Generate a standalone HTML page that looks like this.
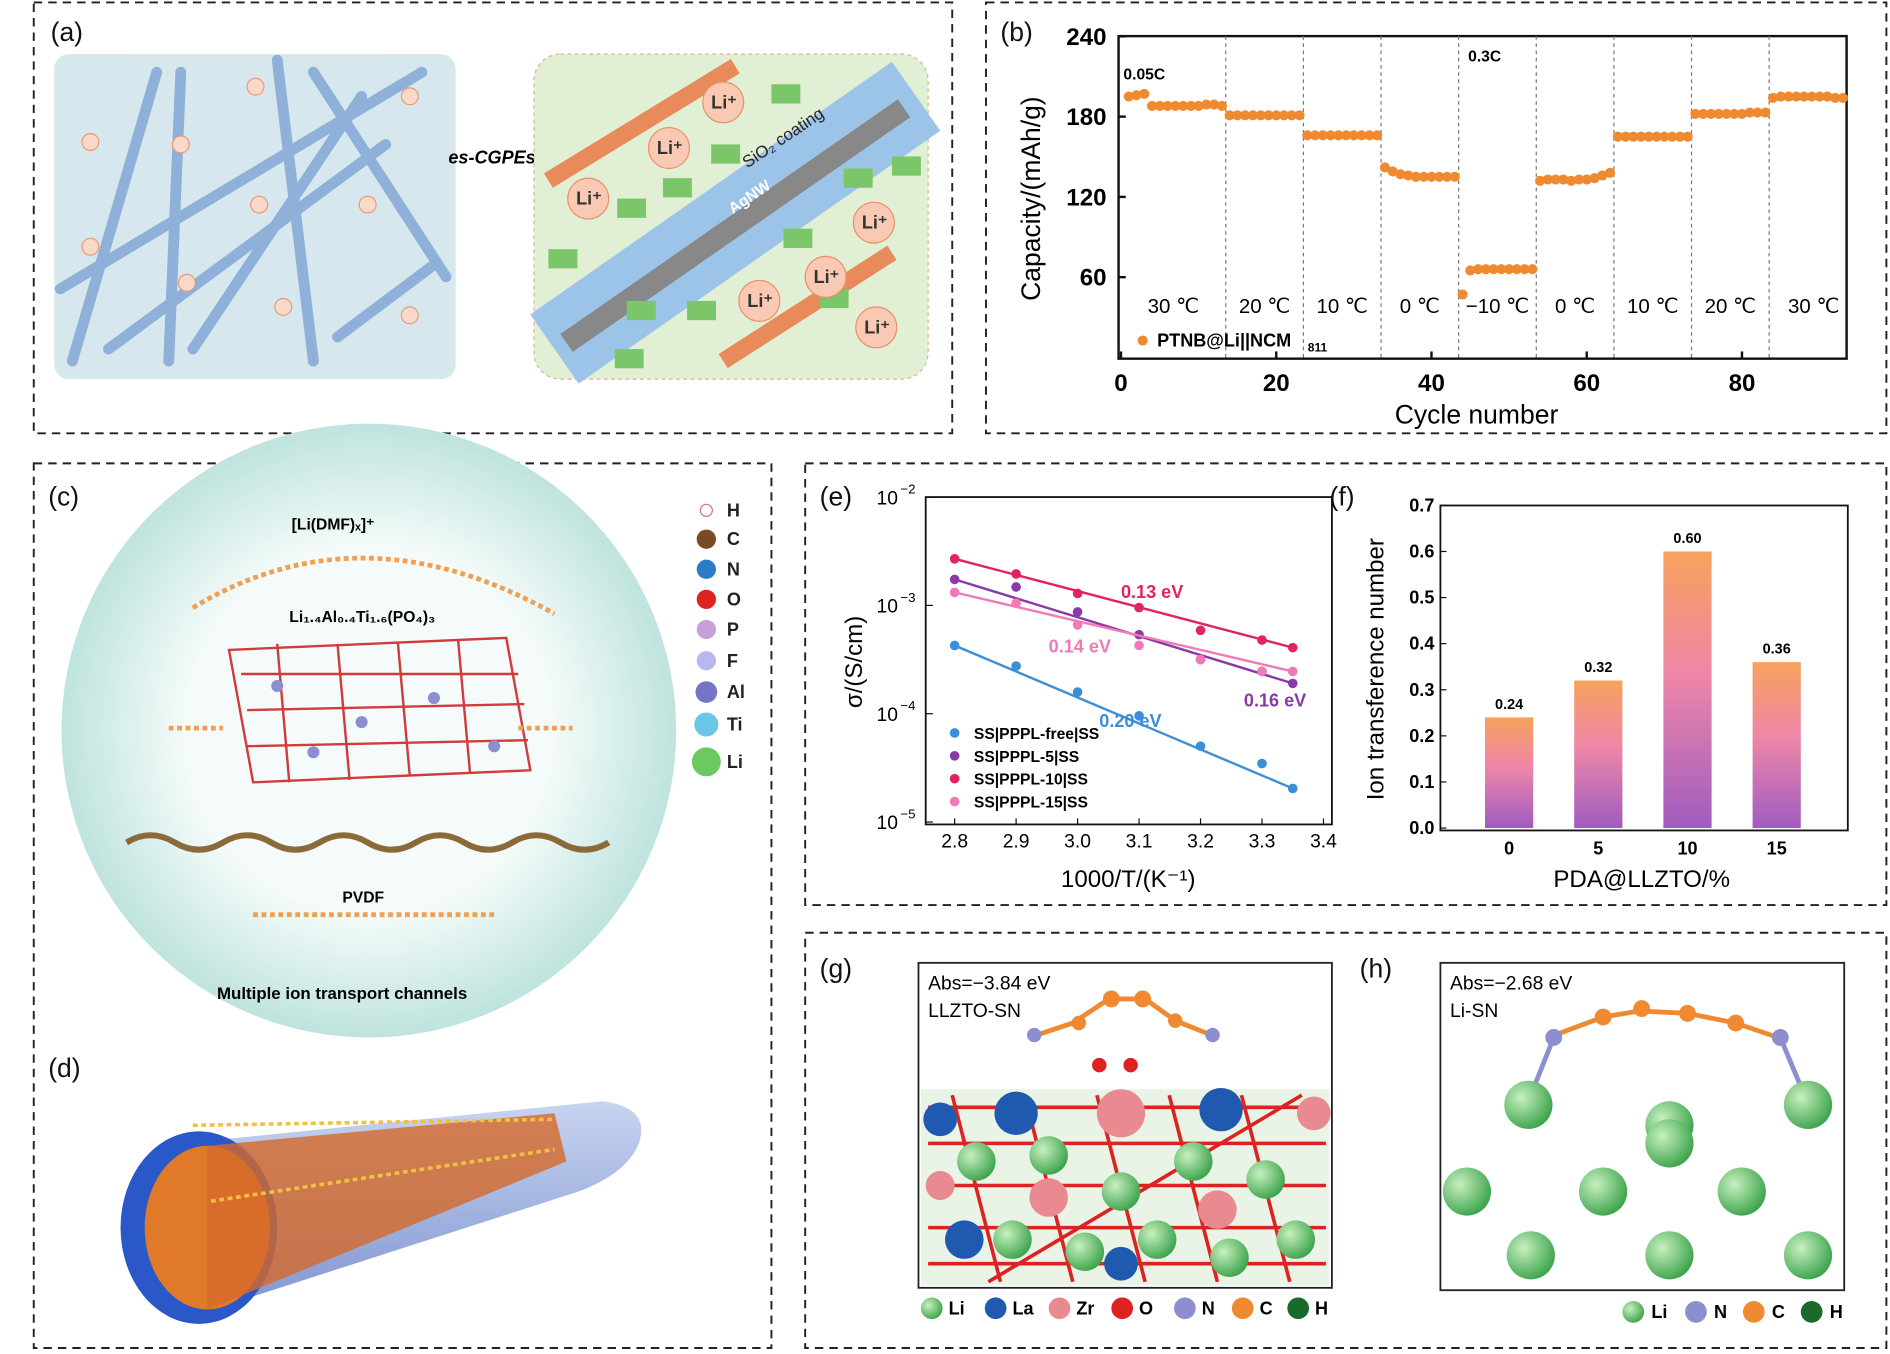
<!DOCTYPE html>
<html><head><meta charset="utf-8"><style>
html,body{margin:0;padding:0;background:#fff}
svg{display:block;font-family:"Liberation Sans",sans-serif}
</style></head><body>
<svg id="fig" width="1890" height="1354" viewBox="0 0 1568 1125" preserveAspectRatio="none" xmlns="http://www.w3.org/2000/svg">
<defs>
<linearGradient id="barg" x1="0" y1="0" x2="0" y2="1"><stop offset="0" stop-color="#f7a25c"/><stop offset="0.45" stop-color="#ee86a8"/><stop offset="1" stop-color="#a05cc0"/></linearGradient>
<radialGradient id="sph" cx="0.5" cy="0.5" r="0.5"><stop offset="0.6" stop-color="#f4fbfa"/><stop offset="1" stop-color="#bfe3de"/></radialGradient>
<radialGradient id="gball" cx="0.35" cy="0.35" r="0.7"><stop offset="0" stop-color="#c8f0c0"/><stop offset="1" stop-color="#3aa34a"/></radialGradient>
<linearGradient id="cyl" x1="0" y1="0" x2="0" y2="1"><stop offset="0" stop-color="#c8d4f0"/><stop offset="1" stop-color="#7f95cf"/></linearGradient>
</defs>
<g fill="none" stroke="#222" stroke-width="1.6" stroke-dasharray="7,5">
<rect x="28" y="2" width="762" height="358"/>
<rect x="818" y="2" width="747" height="358"/>
<rect x="28" y="385" width="612" height="735"/>
<rect x="668" y="385" width="897" height="367"/>
<rect x="668" y="775" width="897" height="345"/>
</g>
<g font-size="22" fill="#111">
<text x="42" y="34">(a)</text>
<text x="830" y="34">(b)</text>
<text x="40" y="420">(c)</text>
<text x="40" y="895">(d)</text>
<text x="680" y="420">(e)</text>
<text x="1103" y="420">(f)</text>
<text x="680" y="812">(g)</text>
<text x="1128" y="812">(h)</text>
</g>
<g>
<rect x="45" y="45" width="333" height="270" rx="12" fill="#d6e8ee"/>
<g stroke="#8fb0d8" stroke-width="9" stroke-linecap="round">
<line x1="60" y1="300" x2="130" y2="60"/><line x1="150" y1="60" x2="140" y2="300"/><line x1="90" y1="290" x2="320" y2="120"/>
<line x1="50" y1="240" x2="350" y2="60"/><line x1="230" y1="50" x2="260" y2="300"/><line x1="260" y1="60" x2="370" y2="230"/>
<line x1="160" y1="290" x2="300" y2="80"/><line x1="280" y1="280" x2="360" y2="220"/>
</g>
<g fill="#fbd9c8" stroke="#e89a7a"><circle cx="75" cy="205" r="7"/><circle cx="150" cy="120" r="7"/><circle cx="215" cy="170" r="7"/><circle cx="305" cy="170" r="7"/><circle cx="155" cy="235" r="7"/><circle cx="235" cy="255" r="7"/><circle cx="340" cy="262" r="7"/><circle cx="212" cy="72" r="7"/><circle cx="340" cy="80" r="7"/><circle cx="75" cy="118" r="7"/></g>
<text x="372" y="136" font-size="15" font-weight="bold" font-style="italic">es-CGPEs</text>
<rect x="443" y="45" width="327" height="270" rx="22" fill="#e1efd4" stroke="#e3b08a" stroke-dasharray="3,3"/>
<line x1="460" y1="290" x2="760" y2="80" stroke="#9cc3e8" stroke-width="70"/>
<line x1="470" y1="285" x2="750" y2="90" stroke="#888" stroke-width="18"/>
<line x1="455" y1="150" x2="610" y2="55" stroke="#e88a5a" stroke-width="14"/>
<line x1="600" y1="300" x2="740" y2="210" stroke="#e88a5a" stroke-width="14"/>
<g fill="#7cc66a"><rect x="455" y="207" width="24" height="16"/><rect x="512" y="165" width="24" height="16"/><rect x="550" y="148" width="24" height="16"/><rect x="590" y="120" width="24" height="16"/><rect x="640" y="70" width="24" height="16"/><rect x="520" y="250" width="24" height="16"/><rect x="570" y="250" width="24" height="16"/><rect x="650" y="190" width="24" height="16"/><rect x="700" y="140" width="24" height="16"/><rect x="740" y="130" width="24" height="16"/><rect x="510" y="290" width="24" height="16"/><rect x="680" y="240" width="24" height="16"/></g>
<g fill="#f9c9b4" stroke="#e8906a"><circle cx="488" cy="165" r="17"/><circle cx="555" cy="123" r="17"/><circle cx="600" cy="85" r="17"/><circle cx="725" cy="185" r="17"/><circle cx="630" cy="250" r="17"/><circle cx="685" cy="230" r="17"/><circle cx="727" cy="272" r="17"/></g>
<g font-size="15" fill="#333" font-weight="bold"><text x="478" y="170">Li⁺</text><text x="545" y="128">Li⁺</text><text x="590" y="90">Li⁺</text><text x="715" y="190">Li⁺</text><text x="620" y="255">Li⁺</text><text x="675" y="235">Li⁺</text><text x="717" y="277">Li⁺</text></g>
<text x="620" y="140" font-size="14" transform="rotate(-34 620 140)" fill="#222">SiO₂ coating</text>
<text x="608" y="178" font-size="13" transform="rotate(-34 608 178)" fill="#fff" font-weight="bold">AgNW</text>
</g>
<g id="chartB"></g>
<g id="chartE"></g>
<g id="chartF"></g>
<g>
<circle cx="306" cy="607" r="255" fill="url(#sph)"/>
<text x="242" y="440" font-size="13" font-weight="bold">[Li(DMF)ₓ]⁺</text>
<text x="240" y="517" font-size="13" font-weight="bold">Li₁.₄Al₀.₄Ti₁.₆(PO₄)₃</text>
<path d="M160,505 Q300,420 460,510" fill="none" stroke="#f0a050" stroke-width="4" stroke-dasharray="4,3"/>
<g stroke="#d23b3b" stroke-width="2" fill="none"><path d="M190,540 L420,530 L440,640 L210,650 Z"/><path d="M200,560 L430,560 M205,590 L435,585 M205,620 L438,615"/><path d="M230,535 L240,650 M280,535 L290,648 M330,533 L340,645 M380,531 L390,643"/></g>
<g fill="#8d8ed0"><circle cx="230" cy="570" r="5"/><circle cx="300" cy="600" r="5"/><circle cx="360" cy="580" r="5"/><circle cx="410" cy="620" r="5"/><circle cx="260" cy="625" r="5"/></g>
<path d="M105,700 q20,-12 40,0 t40,0 t40,0 t40,0 t40,0 t40,0 t40,0 t40,0 t40,0 t40,0" fill="none" stroke="#8b6a3a" stroke-width="5"/>
<text x="284" y="750" font-size="13" font-weight="bold">PVDF</text>
<line x1="210" y1="760" x2="410" y2="760" stroke="#f0a050" stroke-width="4" stroke-dasharray="4,3"/>
<line x1="140" y1="605" x2="185" y2="605" stroke="#f0a050" stroke-width="4" stroke-dasharray="4,3"/>
<line x1="430" y1="605" x2="475" y2="605" stroke="#f0a050" stroke-width="4" stroke-dasharray="4,3"/>
<text x="180" y="830" font-size="14" font-weight="bold">Multiple ion transport channels</text>
<g font-size="15" font-weight="bold" fill="#222">
<circle cx="586" cy="424" r="5" fill="#fff" stroke="#c77"/><text x="603" y="429">H</text>
<circle cx="586" cy="448" r="8" fill="#7a4a20"/><text x="603" y="453">C</text>
<circle cx="586" cy="473" r="8" fill="#2a7bc8"/><text x="603" y="478">N</text>
<circle cx="586" cy="498" r="8" fill="#d22"/><text x="603" y="503">O</text>
<circle cx="586" cy="523" r="8" fill="#c7a0d8"/><text x="603" y="528">P</text>
<circle cx="586" cy="549" r="8" fill="#b8b8f0"/><text x="603" y="554">F</text>
<circle cx="586" cy="575" r="9" fill="#7575c8"/><text x="603" y="580">Al</text>
<circle cx="586" cy="602" r="10" fill="#6cc6e8"/><text x="603" y="607">Ti</text>
<circle cx="586" cy="633" r="12" fill="#6cc860"/><text x="603" y="638">Li</text>
</g>
</g>
<g>
<path d="M150,950 L500,915 Q540,920 530,950 Q520,975 480,990 L170,1090 Z" fill="url(#cyl)"/>
<ellipse cx="165" cy="1020" rx="65" ry="80" fill="#2b58c8"/>
<ellipse cx="172" cy="1020" rx="52" ry="68" fill="#e07a2a"/>
<path d="M172,952 L460,925 L470,965 L172,1088 Z" fill="#d6692a" opacity="0.8"/>
<line x1="160" y1="935" x2="460" y2="930" stroke="#f0c040" stroke-width="3" stroke-dasharray="4,3"/>
<line x1="175" y1="998" x2="460" y2="955" stroke="#f0c040" stroke-width="3" stroke-dasharray="4,3"/>
</g>
<g>
<rect x="762" y="800" width="343" height="270" fill="#fff" stroke="#222" stroke-width="1.5"/>
<rect x="764" y="905" width="339" height="163" fill="#e9f3e6"/>
<g stroke="#d22" stroke-width="3"><path d="M770,920 L1100,920 M770,950 L1100,950 M770,985 L1100,985 M770,1020 L1100,1020 M770,1050 L1100,1050"/><path d="M790,910 L830,1065 M850,910 L890,1065 M910,910 L950,1065 M970,910 L1010,1065 M1030,910 L1070,1065 M1080,910 L820,1065"/></g>
<g fill="url(#gball)"><circle cx="810" cy="965" r="16"/><circle cx="870" cy="960" r="16"/><circle cx="930" cy="990" r="16"/><circle cx="990" cy="965" r="16"/><circle cx="1050" cy="980" r="16"/><circle cx="840" cy="1030" r="16"/><circle cx="900" cy="1040" r="16"/><circle cx="960" cy="1030" r="16"/><circle cx="1020" cy="1045" r="16"/><circle cx="1075" cy="1030" r="16"/></g>
<g fill="#1f5ab0"><circle cx="843" cy="925" r="18"/><circle cx="1013" cy="922" r="18"/><circle cx="780" cy="930" r="14"/><circle cx="800" cy="1030" r="16"/><circle cx="930" cy="1050" r="14"/></g>
<g fill="#e88a90"><circle cx="930" cy="925" r="20"/><circle cx="1090" cy="925" r="14"/><circle cx="870" cy="995" r="16"/><circle cx="1010" cy="1005" r="16"/><circle cx="780" cy="985" r="12"/></g>
<path d="M860,860 L890,850 L920,830 L950,830 L975,848 L1005,860" fill="none" stroke="#f08a30" stroke-width="4"/>
<g fill="#f08a30"><circle cx="922" cy="830" r="7"/><circle cx="948" cy="830" r="7"/><circle cx="895" cy="850" r="6"/><circle cx="975" cy="848" r="6"/></g>
<g fill="#8d8ed0"><circle cx="858" cy="860" r="6"/><circle cx="1006" cy="860" r="6"/></g>
<g fill="#d22"><circle cx="912" cy="885" r="6"/><circle cx="938" cy="885" r="6"/></g>
<text x="770" y="822" font-size="16">Abs=−3.84 eV</text>
<text x="770" y="845" font-size="16">LLZTO-SN</text>
<g font-size="15" font-weight="bold">
<circle cx="773" cy="1087" r="9" fill="url(#gball)"/><text x="787" y="1092">Li</text>
<circle cx="826" cy="1087" r="9" fill="#1f5ab0"/><text x="840" y="1092">La</text>
<circle cx="879" cy="1087" r="9" fill="#e88a90"/><text x="893" y="1092">Zr</text>
<circle cx="931" cy="1087" r="9" fill="#d22"/><text x="945" y="1092">O</text>
<circle cx="983" cy="1087" r="9" fill="#8d8ed0"/><text x="997" y="1092">N</text>
<circle cx="1031" cy="1087" r="9" fill="#f08a30"/><text x="1045" y="1092">C</text>
<circle cx="1077" cy="1087" r="9" fill="#1a6a2a"/><text x="1091" y="1092">H</text>
</g>
</g>
<g>
<rect x="1195" y="800" width="335" height="272" fill="#fff" stroke="#222" stroke-width="1.5"/>
<path d="M1290,860 L1330,845 L1360,840 L1400,842 L1440,850 L1475,862" fill="none" stroke="#f08a30" stroke-width="4"/>
<g fill="#f08a30"><circle cx="1330" cy="845" r="7"/><circle cx="1362" cy="838" r="7"/><circle cx="1400" cy="842" r="7"/><circle cx="1440" cy="850" r="7"/></g>
<g fill="#8d8ed0"><circle cx="1289" cy="862" r="7"/><circle cx="1477" cy="862" r="7"/></g>
<g stroke="#8d8ed0" stroke-width="4"><line x1="1289" y1="862" x2="1270" y2="910"/><line x1="1477" y1="862" x2="1497" y2="910"/></g>
<g fill="url(#gball)"><circle cx="1268" cy="918" r="20"/><circle cx="1385" cy="935" r="20"/><circle cx="1500" cy="918" r="20"/><circle cx="1217" cy="990" r="20"/><circle cx="1330" cy="990" r="20"/><circle cx="1385" cy="950" r="20"/><circle cx="1445" cy="990" r="20"/><circle cx="1270" cy="1043" r="20"/><circle cx="1385" cy="1043" r="20"/><circle cx="1500" cy="1043" r="20"/></g>
<text x="1203" y="822" font-size="16">Abs=−2.68 eV</text>
<text x="1203" y="845" font-size="16">Li-SN</text>
<g font-size="15" font-weight="bold">
<circle cx="1355" cy="1090" r="9" fill="url(#gball)"/><text x="1370" y="1095">Li</text>
<circle cx="1407" cy="1090" r="9" fill="#8d8ed0"/><text x="1422" y="1095">N</text>
<circle cx="1455" cy="1090" r="9" fill="#f08a30"/><text x="1470" y="1095">C</text>
<circle cx="1503" cy="1090" r="9" fill="#1a6a2a"/><text x="1518" y="1095">H</text>
</g>
</g>
</svg>
<script>
const NS="http://www.w3.org/2000/svg";
function mk(p,tag,attrs,txt){const e=document.createElementNS(NS,tag);for(const k in attrs)e.setAttribute(k,attrs[k]);if(txt!==undefined)e.textContent=txt;p.appendChild(e);return e;}

const bCycles=[1,2,3,4,5,6,7,8,9,10,11,12,13,14,15,16,17,18,19,20,21,22,23,24,25,26,27,28,29,30,31,32,33,34,35,36,37,38,39,40,41,42,43,44,45,46,47,48,49,50,51,52,53,54,55,56,57,58,59,60,61,62,63,64,65,66,67,68,69,70,71,72,73,74,75,76,77,78,79,80,81,82,83,84,85,86,87,88,89,90,91,92,93];
const bCapacity=[195,196,197,188,188,188,188,188,188,188,189,189,188,181,181,181,181,181,181,181,181,181,181,166,166,166,166,166,166,166,166,166,166,142,139,137,136,135,135,135,135,135,135,47,65,66,66,66,66,66,66,66,66,132,133,133,133,132,133,133,134,136,138,165,165,165,165,165,165,165,165,165,165,182,182,182,182,182,182,182,183,183,183,194,195,195,195,195,195,195,195,194,194];
const bTempLabels=["30 ℃","20 ℃","10 ℃","0 ℃","−10 ℃","0 ℃","10 ℃","20 ℃","30 ℃"];
const bDividers=[13.5,23.5,33.5,43.5,53.5,63.5,73.5,83.5];
const bXTicks=[0,20,40,60,80];
const bYTicks=[60,120,180,240];
(function(){
 const g=document.getElementById('chartB');
 const L=928,R=1532,T=30,B=298;
 const x=v=>930+v*6.44, y=v=>297-(v/60)*66.7;
 mk(g,'rect',{x:L,y:T,width:R-L,height:B-T,fill:'none',stroke:'#111','stroke-width':2});
 bDividers.forEach(d=>{const l=mk(g,'line',{x1:x(d),x2:x(d),y1:T,y2:B,stroke:'#777','stroke-dasharray':'3,3'});});
 bXTicks.forEach(v=>{mk(g,'line',{x1:x(v),x2:x(v),y1:B,y2:B-6,stroke:'#111','stroke-width':2});const t=mk(g,'text',{x:x(v),y:325,'text-anchor':'middle','font-size':20,'font-weight':'bold'},v);});
 bYTicks.forEach(v=>{mk(g,'line',{x1:L,x2:L+6,y1:y(v),y2:y(v),stroke:'#111','stroke-width':2});const t=mk(g,'text',{x:918,y:y(v)+7,'text-anchor':'end','font-size':20,'font-weight':'bold'},v);});
 bCycles.forEach((c,i)=>{if(bCapacity[i]===undefined)return;const p=mk(g,'circle',{cx:x(c),cy:y(bCapacity[i]),r:4.2,fill:'#f08a30'});});
 const bounds=[0].concat(bDividers).concat([95]);
 bTempLabels.forEach((s,i)=>{const t=mk(g,'text',{x:x((bounds[i]+bounds[i+1])/2),y:260,'text-anchor':'middle','font-size':17},s);});
 mk(g,'text',{x:932,y:66,'font-size':13,'font-weight':'bold'},'0.05C');
 mk(g,'text',{x:1218,y:51,'font-size':13,'font-weight':'bold'},'0.3C');
 mk(g,'circle',{cx:948,cy:283,r:4.2,fill:'#f08a30'});
 const lg=mk(g,'text',{x:960,y:288,'font-size':15,'font-weight':'bold'},'PTNB@Li||NCM');
 mk(g,'text',{x:1085,y:292,'font-size':10,'font-weight':'bold'},'811');
 const xt=mk(g,'text',{x:1225,y:352,'text-anchor':'middle','font-size':22},'Cycle number');
 const yt=mk(g,'text',{x:863,y:165,'text-anchor':'middle','font-size':22,transform:'rotate(-90 863 165)'},'Capacity/(mAh/g)');
})();

const eX=[2.8,2.9,3.0,3.1,3.2,3.3,3.35];
const eFree=[-3.37,-3.56,-3.8,-4.02,-4.3,-4.46,-4.69];
const e5=[-2.76,-2.83,-3.06,-3.27,-3.5,-3.61,-3.72];
const e10=[-2.57,-2.71,-2.89,-3.02,-3.23,-3.32,-3.39];
const e15=[-2.88,-2.98,-3.18,-3.37,-3.5,-3.61,-3.61];
const eNames=["SS|PPPL-free|SS","SS|PPPL-5|SS","SS|PPPL-10|SS","SS|PPPL-15|SS"];
const eEnergies=["0.20 eV","0.16 eV","0.13 eV","0.14 eV"];
const eXTicks=[2.8,2.9,3.0,3.1,3.2,3.3,3.4];
const eYTicks=[-2,-3,-4,-5];
(function(){
 const g=document.getElementById('chartE');
 const L=768,R=1105,T=413,B=685;
 const x=v=>792+(v-2.8)*510, y=v=>413+(-2-v)*90;
 const cols=['#3b8fd8','#8a3aa8','#e2245c','#f07ab8'];
 mk(g,'rect',{x:L,y:T,width:R-L,height:B-T,fill:'none',stroke:'#111','stroke-width':1.5});
 eXTicks.forEach(v=>{mk(g,'line',{x1:x(v),x2:x(v),y1:B,y2:B-5,stroke:'#111'});const t=mk(g,'text',{x:x(v),y:704,'text-anchor':'middle','font-size':16},v.toFixed(1));});
 eYTicks.forEach(v=>{mk(g,'line',{x1:L,x2:L+6,y1:y(v),y2:y(v),stroke:'#111'});const t=mk(g,'text',{x:745,y:y(v)+6,'text-anchor':'end','font-size':16},'10');mk(g,'text',{x:747,y:y(v)-3,'font-size':11},'−'+(-v));});
 [eFree,e5,e10,e15].forEach((s,k)=>{
  const n=s.length-1;
  const ln=mk(g,'line',{x1:x(eX[0]),y1:y(s[0]),x2:x(eX[n]),y2:y(s[n]),stroke:cols[k],'stroke-width':2});
  s.forEach((v,i)=>{const p=mk(g,'circle',{cx:x(eX[i]),cy:y(v),r:4,fill:cols[k]});});
  const ly=614+k*19;
  mk(g,'circle',{cx:792,cy:ly-5,r:4,fill:cols[k]});
  const t=mk(g,'text',{x:808,y:ly,'font-size':13,'font-weight':'bold'},eNames[k]);
 });
 const ep=[[912,604],[1032,587],[930,497],[870,542]];
 eEnergies.forEach((s,k)=>{mk(g,'text',{x:ep[k][0],y:ep[k][1],'font-size':15,'font-weight':'bold',fill:cols[k]},s);});
 const xt=mk(g,'text',{x:936,y:737,'text-anchor':'middle','font-size':20},'1000/T/(K⁻¹)');
 const yt=mk(g,'text',{x:715,y:550,'text-anchor':'middle','font-size':20,transform:'rotate(-90 715 550)'},'σ/(S/cm)');
})();

const fCats=["0","5","10","15"];
const fVals=[0.24,0.32,0.60,0.36];
const fYTicks=[0,0.1,0.2,0.3,0.4,0.5,0.6,0.7];
(function(){
 const g=document.getElementById('chartF');
 const L=1195,R=1533,T=420,B=690;
 const y=v=>688-v*383, x=i=>1252+i*74;
 mk(g,'rect',{x:L,y:T,width:R-L,height:B-T,fill:'none',stroke:'#111','stroke-width':1.5});
 fYTicks.forEach(v=>{mk(g,'line',{x1:L,x2:L+5,y1:y(v),y2:y(v),stroke:'#111'});const t=mk(g,'text',{x:1190,y:y(v)+5,'text-anchor':'end','font-size':15,'font-weight':'bold'},v.toFixed(1));});
 fCats.forEach((c,i)=>{
  const b=mk(g,'rect',{x:x(i)-20,y:y(fVals[i]),width:40,height:y(0)-y(fVals[i]),fill:'url(#barg)'});
  mk(g,'text',{x:x(i),y:y(fVals[i])-7,'text-anchor':'middle','font-size':12,'font-weight':'bold'},fVals[i].toFixed(2));
  const t=mk(g,'text',{x:x(i),y:710,'text-anchor':'middle','font-size':15,'font-weight':'bold'},c);
 });
 const xt=mk(g,'text',{x:1362,y:737,'text-anchor':'middle','font-size':20},'PDA@LLZTO/%');
 const yt=mk(g,'text',{x:1148,y:556,'text-anchor':'middle','font-size':20,transform:'rotate(-90 1148 556)'},'Ion transference number');
})();
</script>
</body></html>
